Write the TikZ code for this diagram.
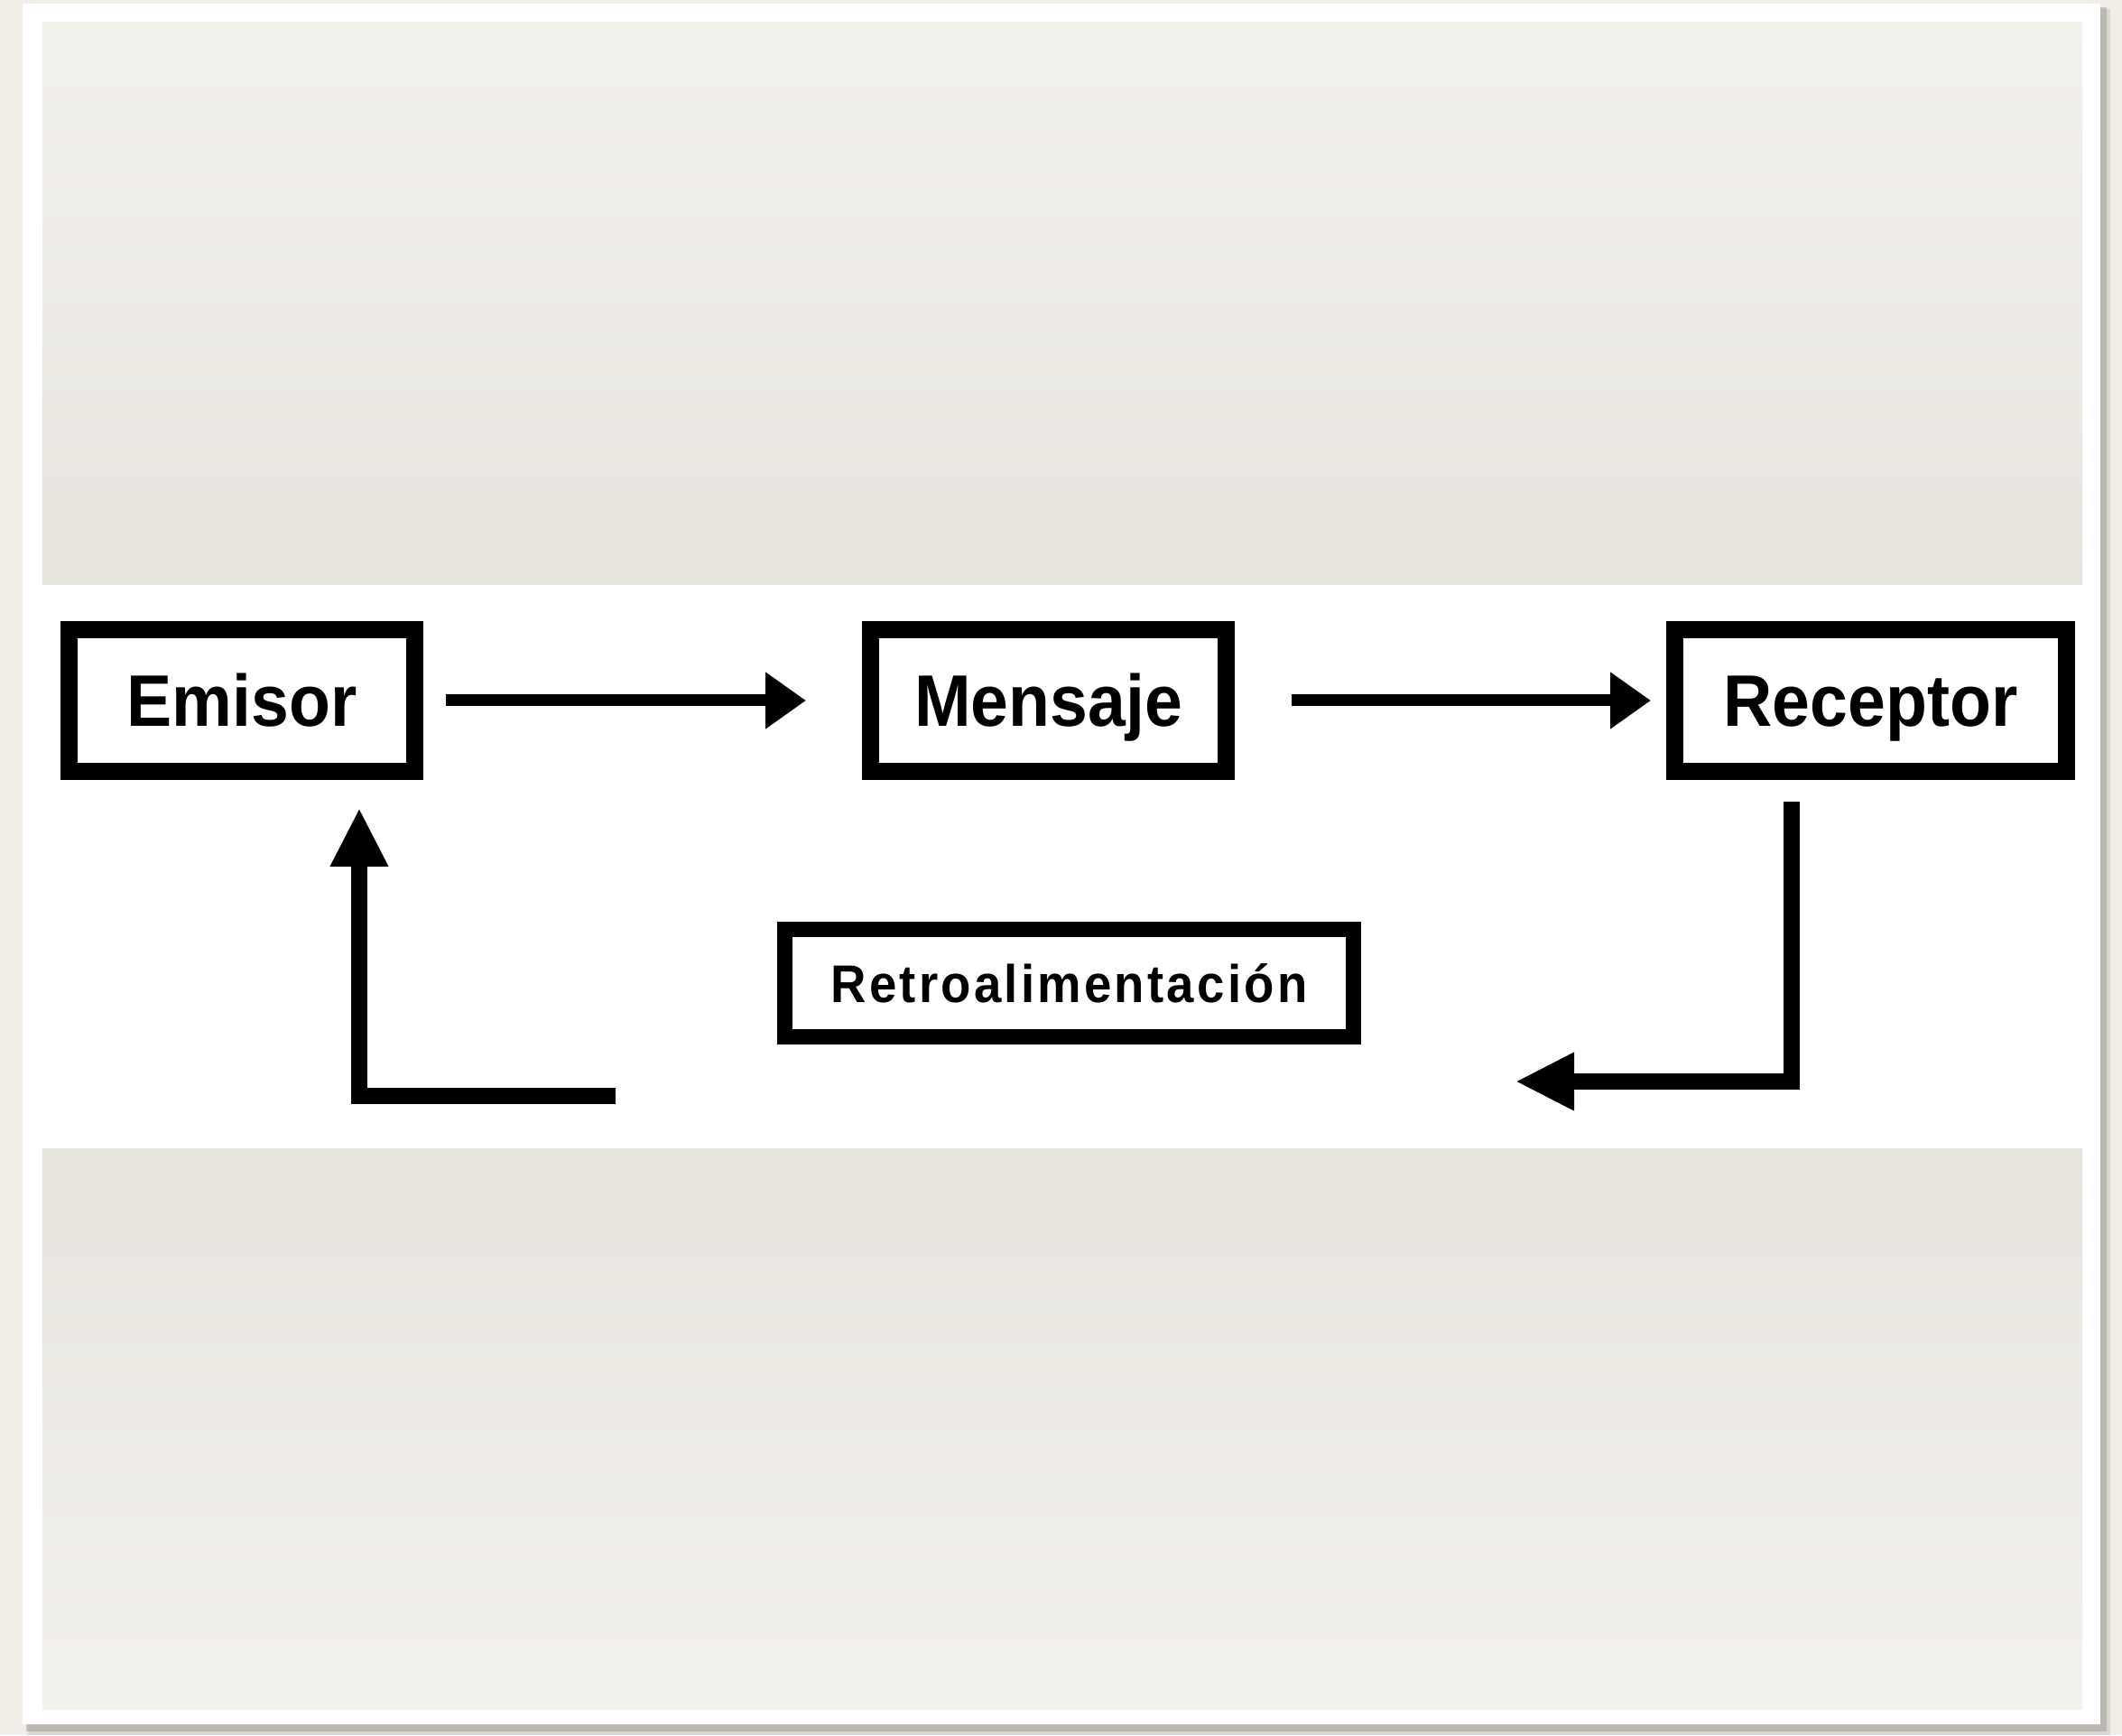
\documentclass[tikz,border=0pt]{standalone}
\usepackage{fontspec}
\usepackage{tikz}
\usetikzlibrary{positioning}
\usetikzlibrary{shapes,arrows,calc,arrows.meta}

\newfontfamily\boxfont{Liberation Sans}[FakeStretch=0.93]
\newfontfamily\retrofont{Liberation Sans}[FakeStretch=0.93,LetterSpace=5.5]

\definecolor{outerbg}{RGB}{241,238,232}
\definecolor{papertop}{RGB}{243,241,236}
\definecolor{paperdark}{RGB}{231,228,222}
\definecolor{shadowgray}{RGB}{150,148,144}

\begin{document}
\begin{tikzpicture}[
    box/.style={draw, line width=0.19cm, fill=white, inner sep=0pt,
      minimum height=1.57cm, text height=0.58cm, text depth=0cm,
      font=\boxfont\bfseries\fontsize{23}{27}\selectfont},
    retrobox/.style={draw, line width=0.17cm, fill=white, inner sep=0pt,
      minimum width=6.30cm, minimum height=1.19cm, text height=0.42cm, text depth=0cm,
      font=\retrofont\bfseries\fontsize{16.7}{20}\selectfont},
    flow/.style={line width=0.13cm, -{Triangle[length=0.45cm,width=0.60cm]}},
    feedback/.style={line width=0.18cm, -{Triangle[length=0.65cm,width=0.60cm]}}
  ]
  \useasboundingbox (0,0) rectangle (23.51,19.22);

  % Draw page and slide frame
  \fill[outerbg] (0,0) rectangle (23.51,19.22);
  \fill[shadowgray, opacity=0.25] (0.31,0.00) rectangle (23.38,19.12);
  \fill[shadowgray, opacity=0.45] (0.29,0.04) rectangle (23.34,19.14);
  \fill[white] (0.25,0.12) rectangle (23.27,19.18);

  % Paper, with the white band in the middle
  \shade[top color=papertop, bottom color=paperdark] (0.47,12.74) rectangle (23.07,18.97);
  \shade[top color=paperdark, bottom color=papertop] (0.47,0.29) rectangle (23.07,6.50);
  \fill[white] (0.47,6.50) rectangle (23.07,12.74);

  % Boxes in the top row
  \node[box, minimum width=3.83cm] (emisor) at (2.68,11.46) {Emisor};
  \node[box, minimum width=3.94cm] (mensaje) at (11.615,11.46) {Mensaje};
  \node[box, minimum width=4.34cm] (receptor) at (20.725,11.46) {Receptor};

  % Feedback box
  \node[retrobox] (retro) at (11.845,8.33) {Retroalimentación};

  % Free ends of the feedback arrows
  \coordinate (retroL) at (6.82,7.08);
  \coordinate (retroR) at (16.79,7.24);

  % Arrows in the top row
  \draw[flow, shorten <=0.25cm, shorten >=0.62cm] (emisor.east) -- (mensaje.west);
  \draw[flow, shorten <=0.63cm, shorten >=0.17cm] (mensaje.east) -- (receptor.west);

  % Feedback arrows
  \draw[feedback, shorten >=0.31cm] (retroL) -| ([xshift=1.30cm]emisor.south);
  \draw[feedback, shorten <=0.24cm] ([xshift=-0.875cm]receptor.south) |- (retroR);
\end{tikzpicture}
\end{document}
